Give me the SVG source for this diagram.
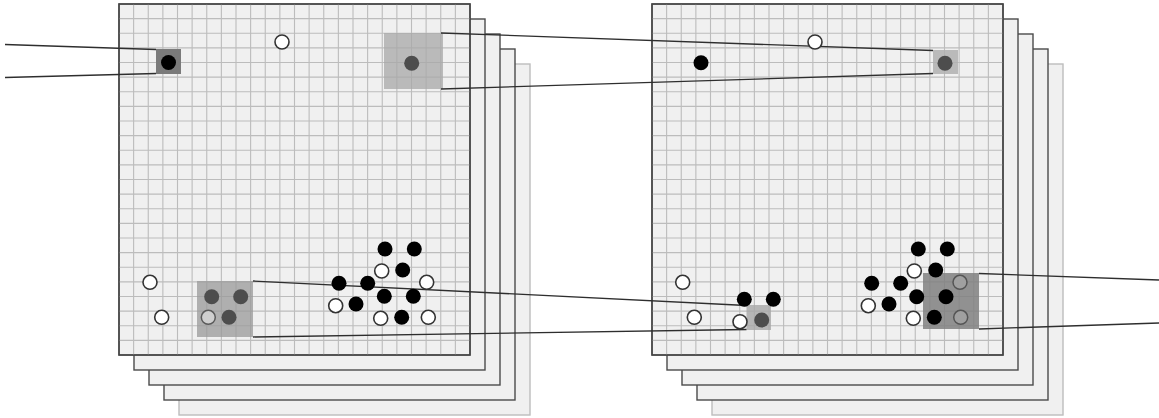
<svg xmlns="http://www.w3.org/2000/svg" xmlns:xlink="http://www.w3.org/1999/xlink" width="1159" height="418" viewBox="0 0 1159 418">
<style>
.layer{fill:#f0f0f0;stroke:#4a4a4a;stroke-width:1.4}
.layer.back{stroke:#bdbdbd}
.grid{fill:none;stroke:#bcbcbc;stroke-width:1.1}
.frame{fill:none;stroke:#444;stroke-width:1.4}
.b{fill:#000}
.w{fill:#fff;stroke:#333;stroke-width:1.6}
.g{fill:#4d4d4d}
.lg{fill:#cfcfcf;stroke:#5a5a5a;stroke-width:1.5}
.hg{fill:#a0a0a0;stroke:#555;stroke-width:1.5}
.conn line{stroke:#2e2e2e;stroke-width:1.3}
</style>
<defs>
<g id="stack">
<rect class="layer back" x="60" y="60" width="351" height="351"/>
<rect class="layer" x="45" y="45" width="351" height="351"/>
<rect class="layer" x="30" y="30" width="351" height="351"/>
<rect class="layer" x="15" y="15" width="351" height="351"/>
<rect class="layer" x="0" y="0" width="351" height="351"/>
<path class="grid" d="M14.625 0V351M29.25 0V351M43.875 0V351M58.5 0V351M73.125 0V351M87.75 0V351M102.375 0V351M117 0V351M131.625 0V351M146.25 0V351M160.875 0V351M175.5 0V351M190.125 0V351M204.75 0V351M219.375 0V351M234 0V351M248.625 0V351M263.25 0V351M277.875 0V351M292.5 0V351M307.125 0V351M321.75 0V351M336.375 0V351M0 14.625H351M0 29.25H351M0 43.875H351M0 58.5H351M0 73.125H351M0 87.75H351M0 102.375H351M0 117H351M0 131.625H351M0 146.25H351M0 160.875H351M0 175.5H351M0 190.125H351M0 204.75H351M0 219.375H351M0 234H351M0 248.625H351M0 263.25H351M0 277.875H351M0 292.5H351M0 307.125H351M0 321.75H351M0 336.375H351"/>
<rect class="frame" x="0" y="0" width="351" height="351"/>
</g>
</defs>

<g id="board-left"><use xlink:href="#stack" href="#stack" transform="translate(119,4)"/></g>
<g id="board-right"><use xlink:href="#stack" href="#stack" transform="translate(652,4)"/></g>

<g id="highlights-left">
<rect x="156" y="49" width="25" height="25" fill="#7a7a7a"/>
<rect x="384" y="33" width="59" height="56" fill="#a8a8a8" fill-opacity="0.75"/>
<rect x="197" y="281" width="56" height="56" fill="#999" fill-opacity="0.75"/>
</g>
<g id="highlights-right">
<rect x="933" y="50" width="25" height="24" fill="#b0b0b0" fill-opacity="0.85"/>
<rect x="746.5" y="305" width="24.5" height="25" fill="#a8a8a8" fill-opacity="0.8"/>
<rect x="923" y="273" width="56" height="56" fill="#808080" fill-opacity="0.85"/>
</g>

<g id="connectors" class="conn">
<line x1="5" y1="44.5" x2="156" y2="49.5"/>
<line x1="5" y1="77.5" x2="156" y2="73.5"/>
<line x1="441" y1="33" x2="933" y2="50.5"/>
<line x1="441" y1="89" x2="933" y2="73.5"/>
<line x1="253" y1="281" x2="746.5" y2="305.5"/>
<line x1="253" y1="337" x2="746.5" y2="329.5"/>
<line x1="979" y1="273.5" x2="1159" y2="280"/>
<line x1="979" y1="329" x2="1159" y2="323"/>
</g>

<g id="stones-left">
<circle class="b" cx="168.5" cy="62.5" r="7.5"/>
<circle class="w" cx="282" cy="42" r="7"/>
<circle class="g" cx="411.7" cy="63.3" r="7.5"/>
<circle class="w" cx="150" cy="282.3" r="7"/>
<circle class="w" cx="161.7" cy="317.3" r="7"/>
<circle class="g" cx="211.7" cy="296.7" r="7.5"/>
<circle class="g" cx="240.7" cy="296.7" r="7.5"/>
<circle class="g" cx="229" cy="317.3" r="7.5"/>
<circle class="lg" cx="208.3" cy="317.3" r="7"/>
<circle class="b" cx="385" cy="249" r="7.5"/>
<circle class="b" cx="414.3" cy="249" r="7.5"/>
<circle class="b" cx="402.7" cy="270" r="7.5"/>
<circle class="b" cx="339" cy="283.3" r="7.5"/>
<circle class="b" cx="367.7" cy="283.3" r="7.5"/>
<circle class="b" cx="384.3" cy="296.3" r="7.5"/>
<circle class="b" cx="413.3" cy="296.3" r="7.5"/>
<circle class="b" cx="356" cy="304" r="7.5"/>
<circle class="b" cx="401.7" cy="317.3" r="7.5"/>
<circle class="w" cx="381.7" cy="271" r="7"/>
<circle class="w" cx="426.7" cy="282.3" r="7"/>
<circle class="w" cx="335.7" cy="305.7" r="7"/>
<circle class="w" cx="380.7" cy="318.3" r="7"/>
<circle class="w" cx="428.3" cy="317.3" r="7"/>
</g>

<g id="stones-right">
<circle class="b" cx="701" cy="62.7" r="7.5"/>
<circle class="w" cx="815" cy="42" r="7"/>
<circle class="g" cx="945" cy="63.3" r="7.5"/>
<circle class="w" cx="682.7" cy="282.3" r="7"/>
<circle class="w" cx="694.3" cy="317.3" r="7"/>
<circle class="b" cx="744.3" cy="299.3" r="7.5"/>
<circle class="b" cx="773.3" cy="299.3" r="7.5"/>
<circle class="g" cx="761.7" cy="320" r="7.5"/>
<circle class="w" cx="740" cy="321.7" r="7"/>
<circle class="b" cx="918.3" cy="249" r="7.5"/>
<circle class="b" cx="947.3" cy="249" r="7.5"/>
<circle class="b" cx="935.7" cy="270" r="7.5"/>
<circle class="b" cx="871.7" cy="283.3" r="7.5"/>
<circle class="b" cx="900.7" cy="283.3" r="7.5"/>
<circle class="b" cx="916.7" cy="296.7" r="7.5"/>
<circle class="b" cx="946" cy="296.7" r="7.5"/>
<circle class="b" cx="889" cy="304" r="7.5"/>
<circle class="b" cx="934.3" cy="317.3" r="7.5"/>
<circle class="w" cx="914.3" cy="271" r="7"/>
<circle class="w" cx="868.3" cy="305.7" r="7"/>
<circle class="w" cx="913.3" cy="318.3" r="7"/>
<circle class="hg" cx="960" cy="282.3" r="7"/>
<circle class="hg" cx="960.7" cy="317.3" r="7"/>
</g>
</svg>
